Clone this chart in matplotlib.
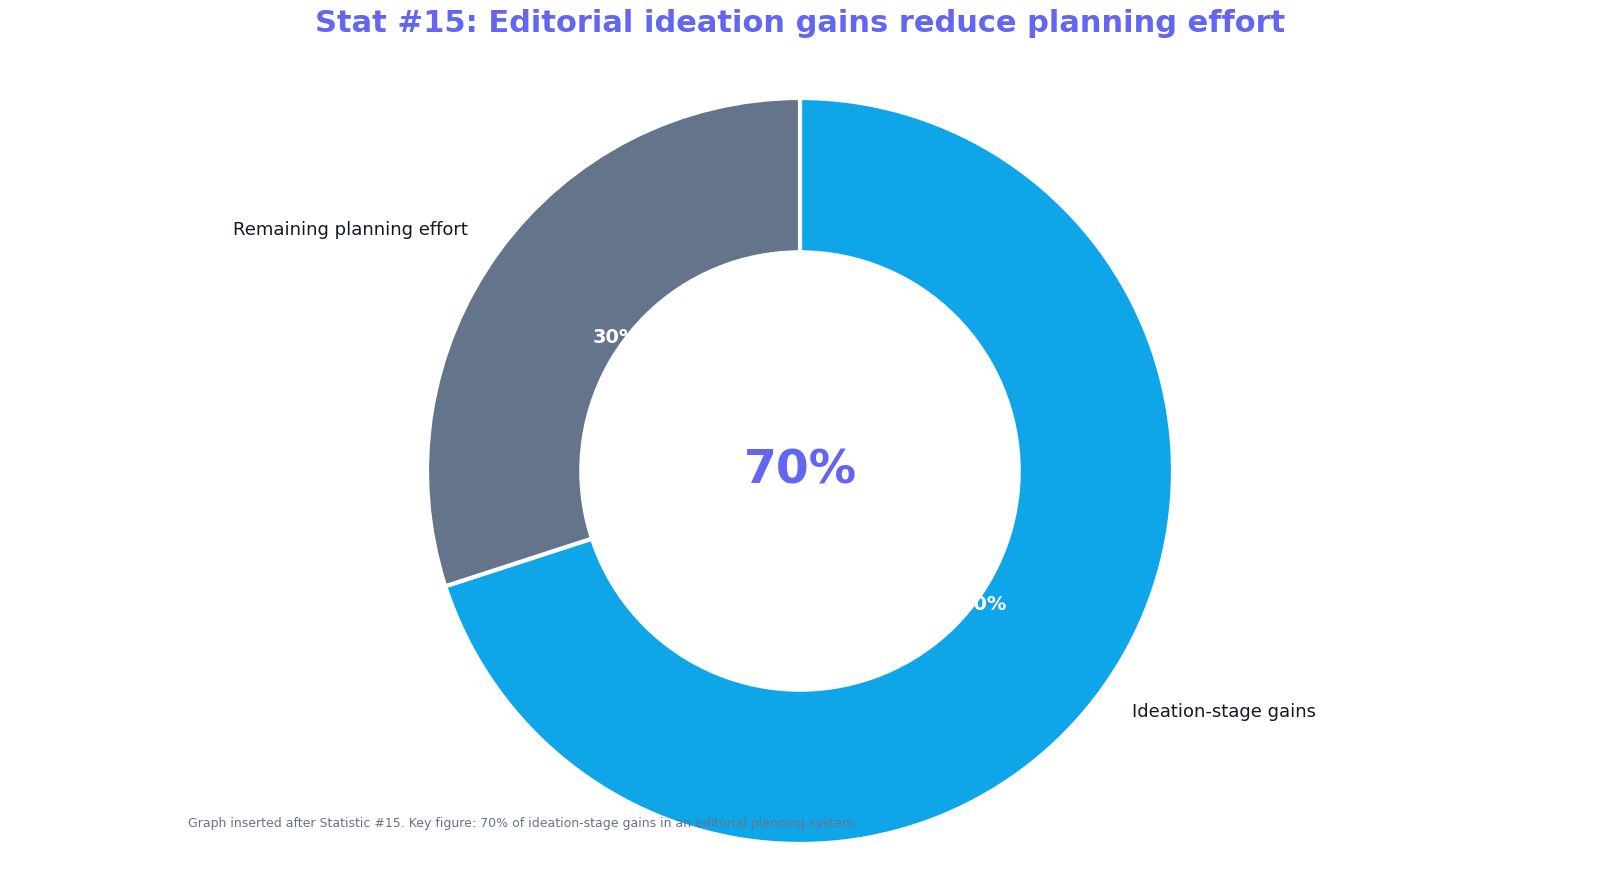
import matplotlib
matplotlib.use("Agg")
import matplotlib.pyplot as plt

labels = ["Ideation-stage gains", "Remaining planning effort"]
values = [70, 30]
colors = ["#0EA5E9", "#64748B"]

fig = plt.figure(figsize=(16, 8.96), dpi=100)
ax = fig.add_axes([0, 0, 1, 1])
ax.pie(values, labels=labels, colors=colors, startangle=90, counterclock=False,
       autopct="%d%%", pctdistance=0.61, labeldistance=1.1,
       wedgeprops=dict(edgecolor="white", linewidth=3),
       textprops=dict(fontsize=13, color="#111827"))
for t in ax.texts:
    if t.get_text().endswith("%"):
        t.set_color("white"); t.set_fontweight("bold"); t.set_fontsize(14)
ax.add_patch(plt.Circle((0, 0), 0.59, color="white", zorder=5))
ax.text(0, 0, "70%", ha="center", va="center", fontsize=34, fontweight="bold",
        color="#6366F1", zorder=6)
R = 373
ax.set_xlim(-800/R, 800/R)
ax.set_ylim(-425/R, 471/R)
ax.set_aspect("auto")
ax.axis("off")
fig.text(0.5, 1 - 23/896, "Stat #15: Editorial ideation gains reduce planning effort",
         ha="center", va="center", fontsize=22, fontweight="bold", color="#6366F1")
fig.text(188/1600, 1 - 823/896,
         "Graph inserted after Statistic #15. Key figure: 70% of ideation-stage gains in an editorial planning system.",
         ha="left", va="center", fontsize=9, color="#64748B", zorder=10)
fig.savefig("out.png", dpi=100)
